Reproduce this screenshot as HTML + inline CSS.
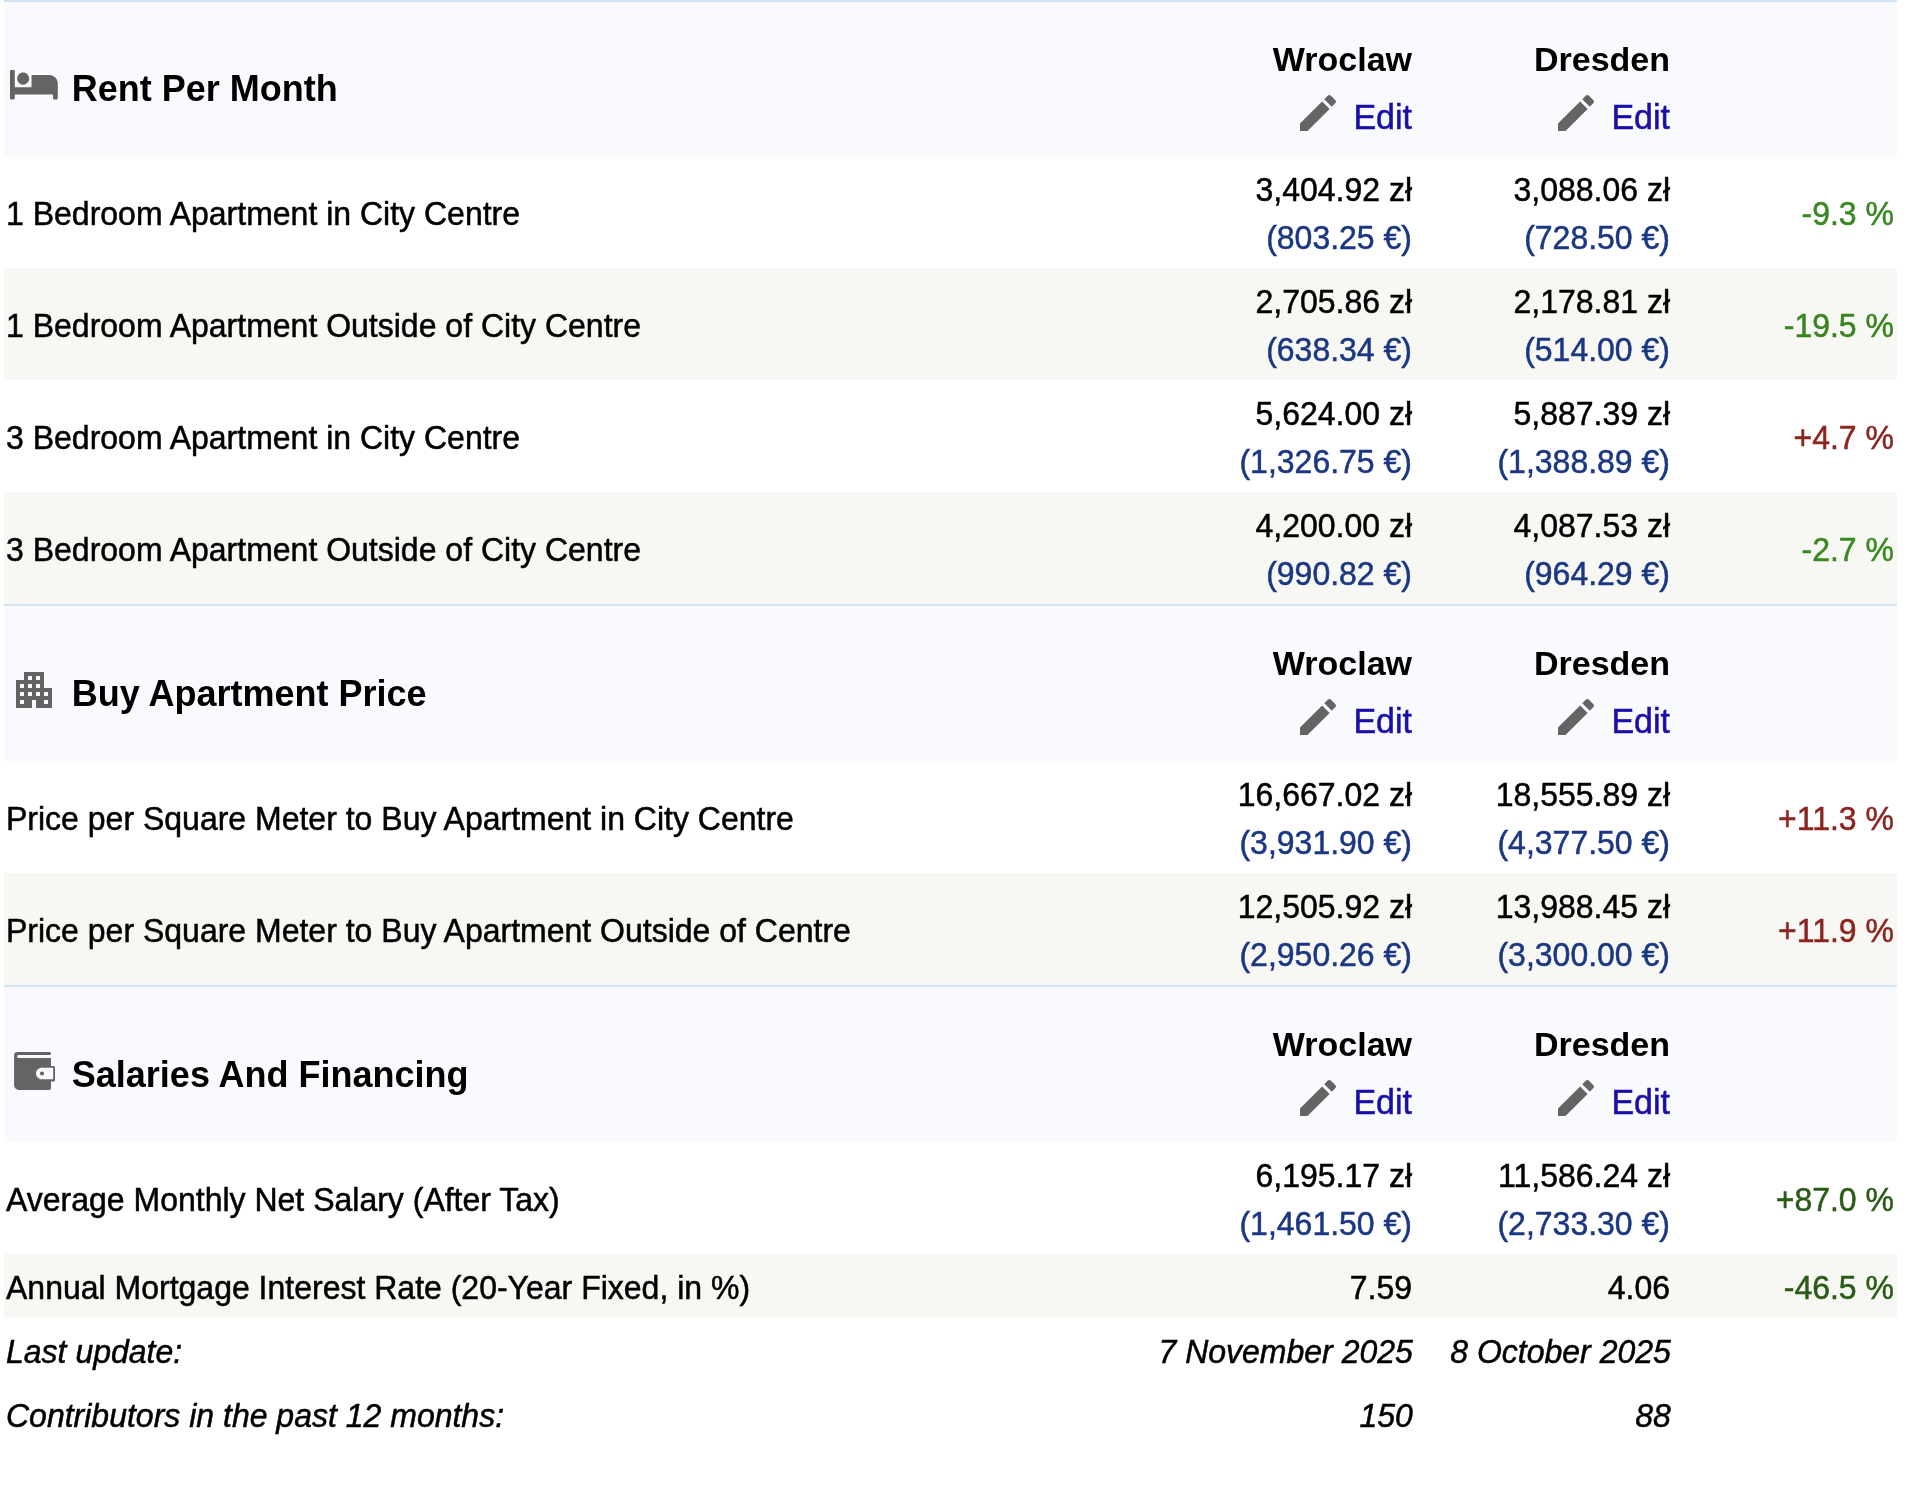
<!DOCTYPE html>
<html><head><meta charset="utf-8"><title>Property Prices Comparison</title>
<style>
html,body{margin:0;padding:0;background:#fff;}
body{width:1910px;height:1488px;position:relative;overflow:hidden;font-family:"Liberation Sans", sans-serif;}
.t{position:absolute;line-height:1;white-space:nowrap;-webkit-text-stroke:0.5px currentColor;transform:scaleY(1.012);transform-origin:0 84.65%;}
.b{font-weight:bold;-webkit-text-stroke:0;transform:none;}
.it{font-style:italic;}
.r{position:absolute;}
.i{position:absolute;display:block;}
#w{position:absolute;left:0;top:0;width:1910px;height:1488px;will-change:transform;}
</style></head><body><div id="w">
<div class="r" style="left:4px;top:0.00px;width:1893px;height:2.00px;background:#d2e3f3"></div>
<div class="r" style="left:4px;top:2.00px;width:1893px;height:154.00px;background:#f9fafe"></div>
<svg class="i" style="left:10.1px;top:70.2px" width="47.8" height="29.4" viewBox="0 64 640 384" preserveAspectRatio="none"><path fill="#646464" d="M176 256c44.110 0 80-35.890 80-80s-35.890-80-80-80-80 35.890-80 80 35.890 80 80 80zm352-128H304c-8.840 0-16 7.160-16 16v144H64V80c0-8.840-7.160-16-16-16H16C7.160 64 0 71.160 0 80v352c0 8.840 7.160 16 16 16h32c8.840 0 16-7.160 16-16v-48h512v48c0 8.840 7.160 16 16 16h32c8.840 0 16-7.160 16-16V240c0-61.860-50.140-112-112-112z"/></svg>
<div class="t b" style="left:71.8px;top:71.03px;font-size:36px;">Rent Per Month</div>
<div class="t b" style="right:498px;top:42.42px;font-size:34px;">Wroclaw</div>
<div class="t" style="right:498px;top:99.72px;font-size:34px;color:#1a0ea8;">Edit</div>
<svg class="i" style="left:1294px;top:89px" width="48" height="48" viewBox="0 0 24 24"><path fill="#646464" d="M3 17.25V21h3.750L17.810 9.940l-3.750-3.750L3 17.250zM20.710 7.040c.390-.390.390-1.020 0-1.410l-2.340-2.340c-.390-.390-1.020-.390-1.410 0l-1.830 1.830 3.750 3.750 1.830-1.830z"/></svg>
<div class="t b" style="right:240px;top:42.42px;font-size:34px;">Dresden</div>
<div class="t" style="right:240px;top:99.72px;font-size:34px;color:#1a0ea8;">Edit</div>
<svg class="i" style="left:1552px;top:89px" width="48" height="48" viewBox="0 0 24 24"><path fill="#646464" d="M3 17.25V21h3.750L17.810 9.940l-3.750-3.750L3 17.250zM20.710 7.040c.390-.390.390-1.020 0-1.410l-2.340-2.340c-.390-.390-1.020-.390-1.410 0l-1.830 1.830 3.750 3.750 1.830-1.830z"/></svg>
<div class="t" style="left:6px;top:198.11px;font-size:32px;">1 Bedroom Apartment in City Centre</div>
<div class="t" style="right:498px;top:174.11px;font-size:32px;">3,404.92 zł</div>
<div class="t" style="right:498px;top:222.11px;font-size:32px;color:#1b3782;">(803.25 €)</div>
<div class="t" style="right:240px;top:174.11px;font-size:32px;">3,088.06 zł</div>
<div class="t" style="right:240px;top:222.11px;font-size:32px;color:#1b3782;">(728.50 €)</div>
<div class="t" style="right:16px;top:198.11px;font-size:32px;color:#3b8823;">-9.3 %</div>
<div class="r" style="left:4px;top:268.00px;width:1893px;height:112.00px;background:#f7f8f3"></div>
<div class="t" style="left:6px;top:310.11px;font-size:32px;">1 Bedroom Apartment Outside of City Centre</div>
<div class="t" style="right:498px;top:286.11px;font-size:32px;">2,705.86 zł</div>
<div class="t" style="right:498px;top:334.11px;font-size:32px;color:#1b3782;">(638.34 €)</div>
<div class="t" style="right:240px;top:286.11px;font-size:32px;">2,178.81 zł</div>
<div class="t" style="right:240px;top:334.11px;font-size:32px;color:#1b3782;">(514.00 €)</div>
<div class="t" style="right:16px;top:310.11px;font-size:32px;color:#398421;">-19.5 %</div>
<div class="t" style="left:6px;top:422.11px;font-size:32px;">3 Bedroom Apartment in City Centre</div>
<div class="t" style="right:498px;top:398.11px;font-size:32px;">5,624.00 zł</div>
<div class="t" style="right:498px;top:446.11px;font-size:32px;color:#1b3782;">(1,326.75 €)</div>
<div class="t" style="right:240px;top:398.11px;font-size:32px;">5,887.39 zł</div>
<div class="t" style="right:240px;top:446.11px;font-size:32px;color:#1b3782;">(1,388.89 €)</div>
<div class="t" style="right:16px;top:422.11px;font-size:32px;color:#8c2520;">+4.7 %</div>
<div class="r" style="left:4px;top:492.00px;width:1893px;height:112.00px;background:#f7f8f3"></div>
<div class="t" style="left:6px;top:534.11px;font-size:32px;">3 Bedroom Apartment Outside of City Centre</div>
<div class="t" style="right:498px;top:510.11px;font-size:32px;">4,200.00 zł</div>
<div class="t" style="right:498px;top:558.11px;font-size:32px;color:#1b3782;">(990.82 €)</div>
<div class="t" style="right:240px;top:510.11px;font-size:32px;">4,087.53 zł</div>
<div class="t" style="right:240px;top:558.11px;font-size:32px;color:#1b3782;">(964.29 €)</div>
<div class="t" style="right:16px;top:534.11px;font-size:32px;color:#3b8823;">-2.7 %</div>
<div class="r" style="left:4px;top:604.00px;width:1893px;height:2.00px;background:#d2e3f3"></div>
<div class="r" style="left:4px;top:606.00px;width:1893px;height:155.00px;background:#f9fafe"></div>
<svg class="i" style="left:10px;top:666.2px" width="48" height="48" viewBox="0 0 24 24"><path fill="#646464" d="M17 11V3H7v4H3v14h8v-4h2v4h8V11h-4zM7 19H5v-2h2v2zm0-4H5v-2h2v2zm0-4H5V9h2v2zm4 4H9v-2h2v2zm0-4H9V9h2v2zm0-4H9V5h2v2zm4 8h-2v-2h2v2zm0-4h-2V9h2v2zm0-4h-2V5h2v2zm4 12h-2v-2h2v2zm0-4h-2v-2h2v2z"/></svg>
<div class="t b" style="left:71.8px;top:676.03px;font-size:36px;">Buy Apartment Price</div>
<div class="t b" style="right:498px;top:646.42px;font-size:34px;">Wroclaw</div>
<div class="t" style="right:498px;top:703.72px;font-size:34px;color:#1a0ea8;">Edit</div>
<svg class="i" style="left:1294px;top:693px" width="48" height="48" viewBox="0 0 24 24"><path fill="#646464" d="M3 17.25V21h3.750L17.810 9.940l-3.750-3.750L3 17.250zM20.710 7.040c.390-.390.390-1.020 0-1.410l-2.340-2.340c-.390-.390-1.020-.390-1.410 0l-1.830 1.830 3.750 3.750 1.830-1.830z"/></svg>
<div class="t b" style="right:240px;top:646.42px;font-size:34px;">Dresden</div>
<div class="t" style="right:240px;top:703.72px;font-size:34px;color:#1a0ea8;">Edit</div>
<svg class="i" style="left:1552px;top:693px" width="48" height="48" viewBox="0 0 24 24"><path fill="#646464" d="M3 17.25V21h3.750L17.810 9.940l-3.750-3.750L3 17.250zM20.710 7.040c.390-.390.390-1.020 0-1.410l-2.340-2.340c-.390-.390-1.020-.390-1.410 0l-1.830 1.830 3.750 3.750 1.830-1.830z"/></svg>
<div class="t" style="left:6px;top:803.11px;font-size:32px;">Price per Square Meter to Buy Apartment in City Centre</div>
<div class="t" style="right:498px;top:779.11px;font-size:32px;">16,667.02 zł</div>
<div class="t" style="right:498px;top:827.11px;font-size:32px;color:#1b3782;">(3,931.90 €)</div>
<div class="t" style="right:240px;top:779.11px;font-size:32px;">18,555.89 zł</div>
<div class="t" style="right:240px;top:827.11px;font-size:32px;color:#1b3782;">(4,377.50 €)</div>
<div class="t" style="right:16px;top:803.11px;font-size:32px;color:#8c2520;">+11.3 %</div>
<div class="r" style="left:4px;top:873.00px;width:1893px;height:112.00px;background:#f7f8f3"></div>
<div class="t" style="left:6px;top:915.11px;font-size:32px;">Price per Square Meter to Buy Apartment Outside of Centre</div>
<div class="t" style="right:498px;top:891.11px;font-size:32px;">12,505.92 zł</div>
<div class="t" style="right:498px;top:939.11px;font-size:32px;color:#1b3782;">(2,950.26 €)</div>
<div class="t" style="right:240px;top:891.11px;font-size:32px;">13,988.45 zł</div>
<div class="t" style="right:240px;top:939.11px;font-size:32px;color:#1b3782;">(3,300.00 €)</div>
<div class="t" style="right:16px;top:915.11px;font-size:32px;color:#8c2520;">+11.9 %</div>
<div class="r" style="left:4px;top:985.00px;width:1893px;height:2.00px;background:#d2e3f3"></div>
<div class="r" style="left:4px;top:987.00px;width:1893px;height:155.00px;background:#f9fafe"></div>
<svg class="i" style="left:0px;top:1040px" width="70" height="60" viewBox="0 0 70 60"><path fill="#646464" d="M17.5 12 H49.5 a1.5 1.5 0 0 1 0 3 H18.2 a1.5 1.5 0 0 0 0 2.900 H51 V25.900 H53.500 a1.500 1.500 0 0 1 1.500 1.500 V39.900 a1.500 1.500 0 0 1 -1.500 1.500 H51 V47.900 a2 2 0 0 1 -2 2 H18.800 a4.700 4.700 0 0 1 -4.700 -4.700 V15.400 a3.400 3.400 0 0 1 3.400 -3.400 Z"/><path fill="#f9fafe" d="M53.200 27.750 V39.300 H42 C38.500 39.300 36 36.500 36 33.500 C36 30.500 38.500 27.750 42 27.750 Z"/><circle cx="42" cy="33.500" r="2.100" fill="#646464"/></svg>
<div class="t b" style="left:71.8px;top:1057.03px;font-size:36px;">Salaries And Financing</div>
<div class="t b" style="right:498px;top:1027.42px;font-size:34px;">Wroclaw</div>
<div class="t" style="right:498px;top:1084.72px;font-size:34px;color:#1a0ea8;">Edit</div>
<svg class="i" style="left:1294px;top:1074px" width="48" height="48" viewBox="0 0 24 24"><path fill="#646464" d="M3 17.25V21h3.750L17.810 9.940l-3.750-3.750L3 17.250zM20.710 7.040c.390-.390.390-1.020 0-1.410l-2.340-2.340c-.390-.390-1.020-.390-1.410 0l-1.830 1.830 3.750 3.750 1.830-1.830z"/></svg>
<div class="t b" style="right:240px;top:1027.42px;font-size:34px;">Dresden</div>
<div class="t" style="right:240px;top:1084.72px;font-size:34px;color:#1a0ea8;">Edit</div>
<svg class="i" style="left:1552px;top:1074px" width="48" height="48" viewBox="0 0 24 24"><path fill="#646464" d="M3 17.25V21h3.750L17.810 9.940l-3.750-3.750L3 17.250zM20.710 7.040c.390-.390.390-1.020 0-1.410l-2.340-2.340c-.390-.390-1.020-.390-1.410 0l-1.830 1.830 3.750 3.750 1.830-1.830z"/></svg>
<div class="t" style="left:6px;top:1184.11px;font-size:32px;">Average Monthly Net Salary (After Tax)</div>
<div class="t" style="right:498px;top:1160.11px;font-size:32px;">6,195.17 zł</div>
<div class="t" style="right:498px;top:1208.11px;font-size:32px;color:#1b3782;">(1,461.50 €)</div>
<div class="t" style="right:240px;top:1160.11px;font-size:32px;">11,586.24 zł</div>
<div class="t" style="right:240px;top:1208.11px;font-size:32px;color:#1b3782;">(2,733.30 €)</div>
<div class="t" style="right:16px;top:1184.11px;font-size:32px;color:#2a5b17;">+87.0 %</div>
<div class="r" style="left:4px;top:1254.00px;width:1893px;height:64.00px;background:#f7f8f3"></div>
<div class="t" style="left:6px;top:1272.11px;font-size:32px;">Annual Mortgage Interest Rate (20-Year Fixed, in %)</div>
<div class="t" style="right:498px;top:1272.11px;font-size:32px;">7.59</div>
<div class="t" style="right:240px;top:1272.11px;font-size:32px;">4.06</div>
<div class="t" style="right:16px;top:1272.11px;font-size:32px;color:#2a5b17;">-46.5 %</div>
<div class="t it" style="left:6px;top:1336.11px;font-size:32px;">Last update:</div>
<div class="t it" style="right:497.2px;top:1336.11px;font-size:32px;">7 November 2025</div>
<div class="t it" style="right:239.2px;top:1336.11px;font-size:32px;">8 October 2025</div>
<div class="t it" style="left:6px;top:1400.11px;font-size:32px;">Contributors in the past 12 months:</div>
<div class="t it" style="right:497.2px;top:1400.11px;font-size:32px;">150</div>
<div class="t it" style="right:239.2px;top:1400.11px;font-size:32px;">88</div>
</div></body></html>
